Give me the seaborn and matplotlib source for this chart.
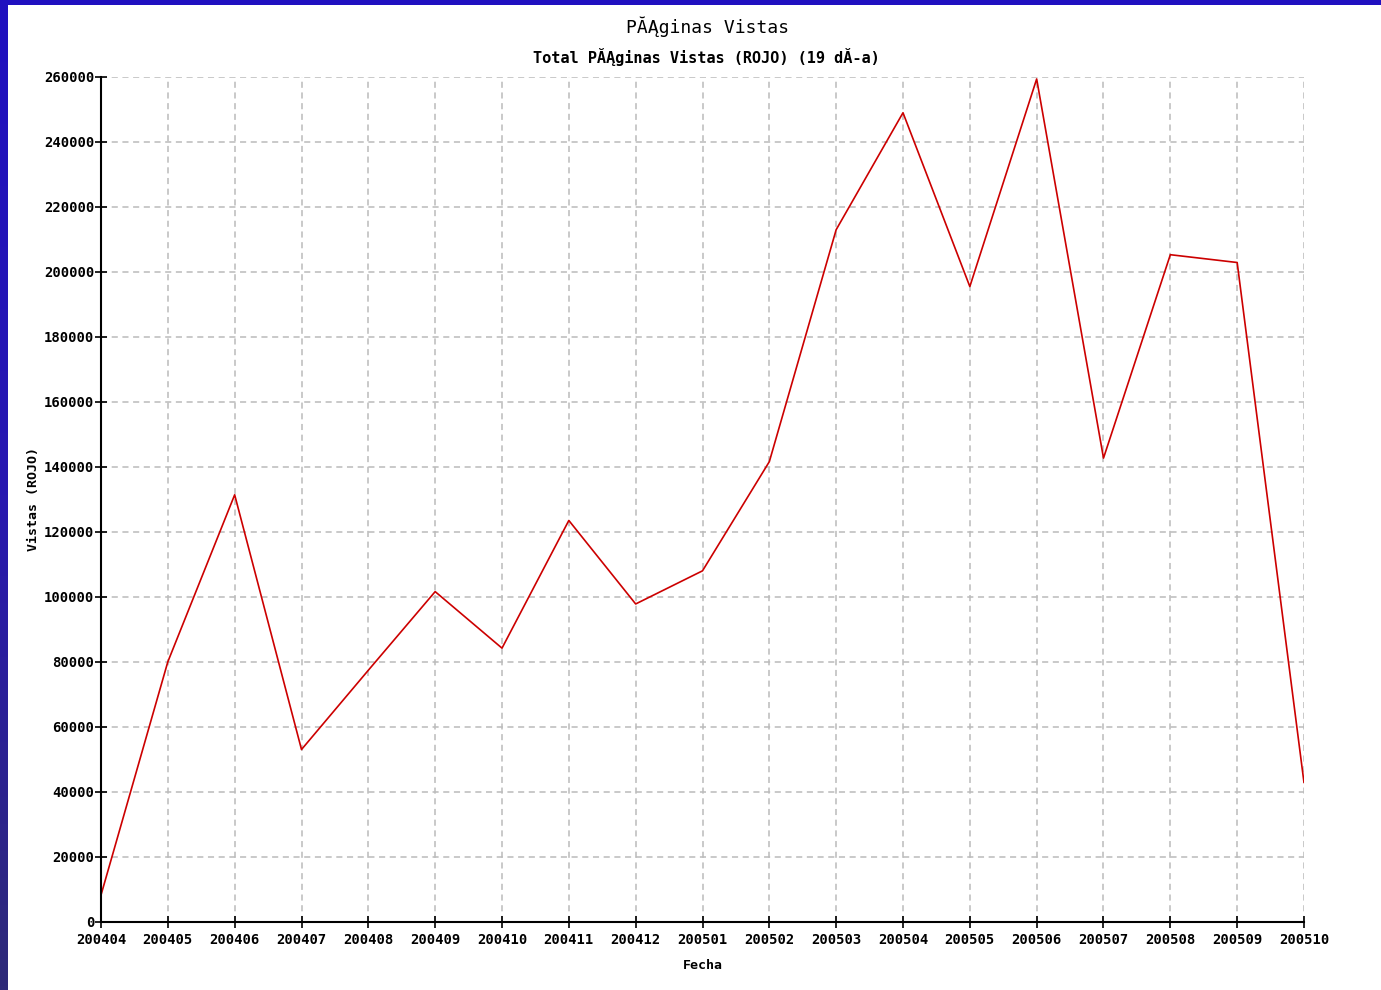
import numpy as np
import pandas as pd
import matplotlib
matplotlib.use("Agg")
import matplotlib.pyplot as plt
from matplotlib.colors import LinearSegmentedColormap
from matplotlib.patches import Rectangle
import seaborn as sns

# ---- data ----
months = ["200404", "200405", "200406", "200407", "200408", "200409", "200410",
          "200411", "200412", "200501", "200502", "200503", "200504", "200505",
          "200506", "200507", "200508", "200509", "200510"]
views = [8200, 80000, 131400, 53000, 77400, 101600, 84200, 123500, 97800, 108000,
         141600, 213000, 249000, 195500, 259400, 142700, 205300, 202900, 42800]
yticks = list(range(0, 260001, 20000))

title = "PĂĄginas Vistas"
subtitle = "Total PĂĄginas Vistas (ROJO) (19 dĂ-a)"
xlabel = "Fecha"
ylabel = "Vistas (ROJO)"

sns.set_style("white")
plt.rcParams['font.family'] = ['DejaVu Sans Mono', 'DejaVu Sans']
plt.rcParams['text.color'] = 'black'
plt.rcParams['axes.labelcolor'] = 'black'
plt.rcParams['xtick.color'] = 'black'
plt.rcParams['ytick.color'] = 'black'

W, H = 1381, 990
fig = plt.figure(figsize=(W / 100, H / 100), dpi=100)
fig.patch.set_facecolor("white")

ax = fig.add_axes([101 / W, 1 - 921.7 / H, (1304 - 101) / W, (921.7 - 77) / H])
df = pd.DataFrame({"idx": np.arange(len(months)), "views": views})
sns.lineplot(data=df, x="idx", y="views", ax=ax, color="#cc0000", linewidth=1.2)

ax.set_xlim(0, len(months) - 1)
ax.set_ylim(0, 260000)
ax.set_xticks(np.arange(len(months)))
ax.set_xticklabels(months)
ax.set_yticks(yticks)
ax.set_yticklabels([str(v) for v in yticks])

for s in ["top", "right"]:
    ax.spines[s].set_visible(False)
for s in ["left", "bottom"]:
    ax.spines[s].set_color("black")
    ax.spines[s].set_linewidth(1.5)

ax.tick_params(axis="both", direction="inout", length=8, width=1.2, color="black",
               labelsize=10, pad=1, bottom=True, left=True, labelcolor="black")
ax.tick_params(axis="x", pad=4)
for lab in ax.get_xticklabels() + ax.get_yticklabels():
    lab.set_fontweight("bold")
    lab.set_family(["DejaVu Sans Mono"])

ax.grid(True, color="#bbbbbb", linestyle=(0, (4, 3)), linewidth=1.1)
ax.set_axisbelow(True)

ax.set_xlabel(xlabel, fontsize=9.5, fontweight="bold", labelpad=9, color="black")
ax.set_ylabel(ylabel, fontsize=9.5, fontweight="bold", labelpad=3, color="black")

fig.text(708 / W, 1 - 27 / H, title, ha="center", va="center", fontsize=13,
         color="black")
fig.text(706 / W, 1 - 57 / H, subtitle, ha="center", va="center", fontsize=11,
         fontweight="bold", color="black")

# blue frame
fig.patches.append(Rectangle((0, 1 - 5 / H), 1, 5 / H, transform=fig.transFigure,
                             facecolor="#2010c0", edgecolor="none", zorder=10))
bax = fig.add_axes([0, 0, 8 / W, 1])
cmap = LinearSegmentedColormap.from_list("frame", ["#2010c0", "#2818b0", "#2e2a78"])
bax.imshow(np.linspace(0, 1, 256).reshape(-1, 1), aspect="auto", cmap=cmap)
bax.axis("off")

fig.savefig("out.png", dpi=100)
